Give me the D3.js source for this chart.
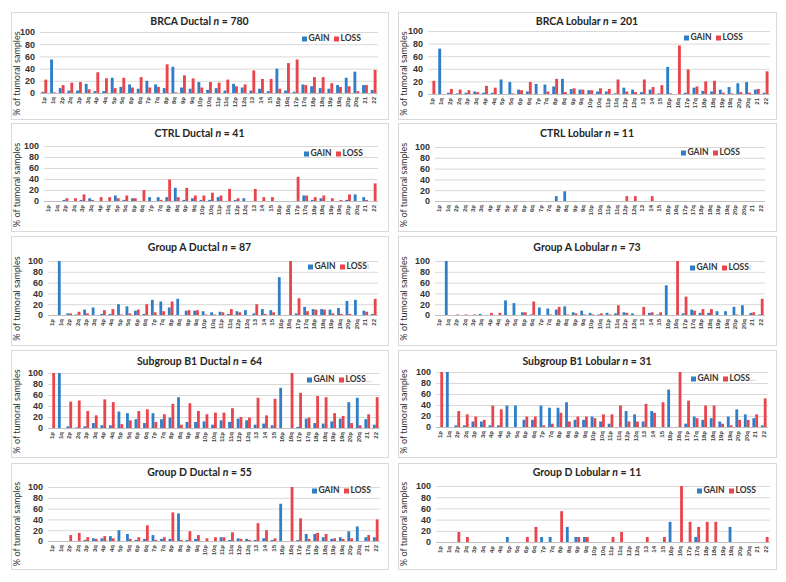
<!DOCTYPE html>
<html><head><meta charset="utf-8">
<script src="https://cdn.jsdelivr.net/npm/d3@7"></script>
<style>body{margin:0;background:#fff;}svg{display:block;font-family:Lato,"Liberation Sans",Arial,sans-serif;}</style>
</head><body><svg id="c" width="786" height="582"></svg>
<script>
const categories = ["1p","1q","2p","2q","3p","3q","4p","4q","5p","5q","6p","6q","7p","7q","8p","8q","9p","9q","10p","10q","11p","11q","12p","12q","13","14","15","16p","16q","17p","17q","18p","18q","19p","19q","20p","20q","21","22"];
const yTicks = [0,20,40,60,80,100];
const seriesNames = ["GAIN","LOSS"];

const titles = ["BRCA Ductal","BRCA Lobular","CTRL Ductal","CTRL Lobular","Group A Ductal","Group A Lobular","Subgroup B1 Ductal","Subgroup B1 Lobular","Group D Ductal","Group D Lobular"];
const sampleN = [780,201,41,11,87,73,64,31,55,11];
const legendSuffix = ["","","","","ı","ı","...","...","",""];

const brcaDuctalGain = [2,55,8,4,4,15,3,3,25,10,14,7,20,14,8,43,9,7,18,5,8,4,15,9,4,7,3,40,4,2,14,11,8,7,13,25,35,13,5];
const brcaDuctalLoss = [22,1,13,17,18,6,34,24,8,25,9,26,9,10,47,1,29,24,9,18,17,22,11,14,37,23,23,7,49,55,13,26,26,16,10,11,3,13,38];
const brcaLobularGain = [0,72,2,1,2,4,2,2,23,19,7,4,16,15,12,24,8,7,6,4,4,1,10,7,3,7,1,43,0,2,10,5,4,7,11,17,19,7,2];
const brcaLobularLoss = [21,0,8,7,6,3,13,10,0,1,6,19,0,4,24,3,9,7,6,9,8,23,4,3,23,11,14,1,77,39,12,20,21,2,1,3,2,8,36];
const ctrlDuctalGain = [0,0,2,0,2,5,0,0,10,2,5,0,7,7,7,24,2,5,2,2,7,0,2,5,0,0,0,0,0,0,10,2,5,0,0,2,12,7,0];
const ctrlDuctalLoss = [0,0,5,5,12,2,7,7,5,10,5,20,0,2,39,7,24,10,10,15,10,22,5,0,22,7,7,0,0,44,10,7,10,5,2,12,0,2,32];
const ctrlLobularGain = [0,0,0,0,0,0,0,0,0,0,0,0,0,0,9,18,0,0,0,0,0,0,0,0,0,0,0,0,0,0,0,0,0,0,0,0,0,0,0];
const ctrlLobularLoss = [0,0,0,0,0,0,0,0,0,0,0,0,0,0,0,0,0,0,0,0,0,0,9,9,0,9,0,0,0,0,0,0,0,0,0,0,0,0,0];
const groupADuctalGain = [0,100,3,1,10,14,2,2,20,16,8,2,28,25,14,30,8,8,7,5,6,2,7,9,3,11,9,70,0,3,15,11,11,10,13,26,28,8,2];
const groupADuctalLoss = [0,0,3,6,3,0,9,11,1,3,10,20,5,7,25,0,9,9,1,1,5,11,5,0,20,2,5,0,100,31,7,10,10,3,2,2,0,6,30];
const groupALobularGain = [0,100,0,0,0,2,0,0,27,22,5,1,14,12,10,16,5,8,4,1,4,3,5,3,0,4,1,55,0,3,10,4,4,7,7,15,18,4,1];
const groupALobularLoss = [0,0,1,1,1,0,4,4,0,0,5,25,0,1,15,1,3,1,1,3,1,18,4,0,15,5,5,0,100,34,8,11,11,0,0,1,0,5,30];
const b1DuctalGain = [0,100,3,1,3,9,5,5,30,27,16,9,27,16,19,56,11,11,12,6,14,11,17,14,6,8,5,73,0,2,17,9,8,12,17,47,55,16,6];
const b1DuctalLoss = [100,0,48,50,31,23,52,47,7,14,31,34,11,25,44,6,45,31,25,28,28,36,20,19,55,23,53,0,100,64,19,58,56,27,22,9,5,25,56];
const b1LobularGain = [0,100,3,3,10,10,3,3,39,39,13,13,39,35,35,45,13,13,19,10,6,0,29,23,10,29,0,68,0,6,19,13,16,10,19,32,23,16,3];
const b1LobularLoss = [100,0,29,23,19,13,39,32,0,0,19,19,3,6,26,10,19,19,16,23,23,39,10,10,42,26,45,0,100,48,16,39,39,6,3,13,13,23,52];
const groupDDuctalGain = [0,0,0,0,2,5,5,9,20,13,2,4,11,4,4,51,2,4,0,0,7,2,5,4,2,5,2,69,0,2,13,13,7,4,7,18,27,7,7];
const groupDDuctalLoss = [0,0,11,15,7,4,9,5,0,4,7,29,2,7,53,2,18,11,5,7,7,16,4,2,33,20,5,0,100,42,4,15,13,5,4,5,0,11,40];
const groupDLobularGain = [0,0,0,0,0,0,0,0,9,0,0,0,9,9,0,27,9,9,0,0,0,0,0,0,0,0,0,36,0,0,9,0,0,0,27,0,0,0,0];
const groupDLobularLoss = [0,0,18,9,0,0,0,0,0,0,9,27,0,0,55,0,9,9,0,0,9,18,0,0,9,0,9,0,100,36,27,36,36,0,0,0,0,0,9];

const gainSeries = [brcaDuctalGain,brcaLobularGain,ctrlDuctalGain,ctrlLobularGain,groupADuctalGain,groupALobularGain,b1DuctalGain,b1LobularGain,groupDDuctalGain,groupDLobularGain];
const lossSeries = [brcaDuctalLoss,brcaLobularLoss,ctrlDuctalLoss,ctrlLobularLoss,groupADuctalLoss,groupALobularLoss,b1DuctalLoss,b1LobularLoss,groupDDuctalLoss,groupDLobularLoss];

// layout (geometry only)
const colBox = [[11,388],[398,776]];
const rowBox = [[12,119],[123,231],[236,345],[350,457],[463,569]];
const plots = [
  {x0:40,x1:378,y0:32,y1:93,lx:302,ly:39},
  {x0:428,x1:770,y0:31,y1:94,lx:684,ly:38},
  {x0:44,x1:378,y0:146,y1:201,lx:304,ly:154},
  {x0:435,x1:765,y0:147,y1:201,lx:681,ly:153},
  {x0:48,x1:378,y0:261,y1:315,lx:308,ly:267},
  {x0:435,x1:765,y0:261,y1:315,lx:690,ly:268},
  {x0:48,x1:380,y0:373,y1:428,lx:307,ly:380},
  {x0:436,x1:768,y0:372,y1:427,lx:691,ly:379},
  {x0:48,x1:380,y0:487,y1:541,lx:312,ly:491},
  {x0:436,x1:770,y0:486,y1:542,lx:697,ly:491}
];
const titleY = [22,22,134,134,248,248,362,362,473,473];
const colors = {GAIN:"#2f7fc8", LOSS:"#e8454c"};

const svg = d3.select("#c");

titles.forEach((t,i)=>{
  const col = i%2, row = Math.floor(i/2);
  const p = plots[i];
  const g = svg.append("g");
  g.append("rect").attr("x",colBox[col][0]+0.5).attr("y",rowBox[row][0]+0.5)
    .attr("width",colBox[col][1]-colBox[col][0]).attr("height",rowBox[row][1]-rowBox[row][0])
    .attr("fill","#fff").attr("stroke","#d9d9d9");

  const x = d3.scaleBand().domain(categories).range([p.x0,p.x1]).paddingInner(0.32).paddingOuter(0.16);
  const xs = d3.scaleBand().domain(seriesNames).range([0,x.bandwidth()]).padding(0.02);
  const y = d3.scaleLinear().domain([0,100]).range([p.y1,p.y0]);

  g.append("g").selectAll("line").data(yTicks.filter(v=>v>0)).join("line")
    .attr("x1",p.x0).attr("x2",p.x1).attr("y1",d=>y(d)+0.5).attr("y2",d=>y(d)+0.5)
    .attr("stroke","#d9d9d9").attr("stroke-width",1);

  const ya = g.append("g").attr("transform",`translate(${p.x0},0)`)
    .call(d3.axisLeft(y).tickValues(yTicks).tickSize(0).tickPadding(5));
  ya.select(".domain").remove();
  ya.selectAll("text").attr("font-size","9px").attr("font-weight","bold").attr("fill","#333");

  const data = categories.map((c,k)=>({c, GAIN:gainSeries[i][k], LOSS:lossSeries[i][k]}));
  const bg = g.append("g").selectAll("g").data(data).join("g")
    .attr("transform",d=>`translate(${x(d.c)},0)`);
  bg.selectAll("rect").data(d=>seriesNames.map(s=>({s,v:d[s]}))).join("rect")
    .attr("x",d=>xs(d.s)).attr("width",xs.bandwidth())
    .attr("y",d=>y(d.v)).attr("height",d=>y(0)-y(d.v))
    .attr("fill",d=>colors[d.s]);

  const xa = g.append("g").attr("transform",`translate(0,${p.y1})`)
    .call(d3.axisBottom(x).tickSize(0).tickPadding(4));
  xa.select(".domain").attr("stroke","#bfbfbf").attr("d",`M${p.x0},0.5H${p.x1}`);
  xa.selectAll(".tick text").attr("font-size","6px").attr("font-weight","bold").attr("fill","#404040")
    .attr("text-anchor","end").attr("transform","rotate(-90)")
    .attr("y",0).attr("x",-4).attr("dx",0).attr("dy","0.32em");

  const yc = (rowBox[row][0]+rowBox[row][1])/2 + 8;
  g.append("text").attr("transform",`translate(${colBox[col][0]+7},${yc}) rotate(-90)`)
    .attr("text-anchor","middle").attr("dominant-baseline","middle")
    .attr("font-size","9px").attr("fill","#333").text("% of tumoral samples");

  const tt = g.append("text").attr("x",(colBox[col][0]+colBox[col][1])/2)
    .attr("y",titleY[i]).attr("text-anchor","middle").attr("dominant-baseline","middle")
    .attr("font-size","10.5px").attr("font-weight","bold").attr("fill","#262626");
  tt.append("tspan").text(t+" ");
  tt.append("tspan").attr("font-style","italic").text("n");
  tt.append("tspan").text(" = "+sampleN[i]);

  const lg = g.append("g").attr("transform",`translate(${p.lx},${p.ly})`);
  lg.append("rect").attr("x",0).attr("y",-2.5).attr("width",5).attr("height",5).attr("fill",colors.GAIN);
  lg.append("text").attr("x",6.5).attr("y",0).attr("dominant-baseline","middle")
    .attr("font-size","8.5px").attr("font-weight","bold").attr("fill","#333").text("GAIN");
  lg.append("rect").attr("x",32).attr("y",-2.5).attr("width",5).attr("height",5).attr("fill",colors.LOSS);
  const lt = lg.append("text").attr("x",38.5).attr("y",0).attr("dominant-baseline","middle")
    .attr("font-size","8.5px").attr("font-weight","bold").attr("fill","#333");
  lt.append("tspan").text("LOSS");
  if (legendSuffix[i]) lt.append("tspan").attr("fill","#bfbfbf").attr("font-weight","normal").text(legendSuffix[i]);
});
</script></body></html>
